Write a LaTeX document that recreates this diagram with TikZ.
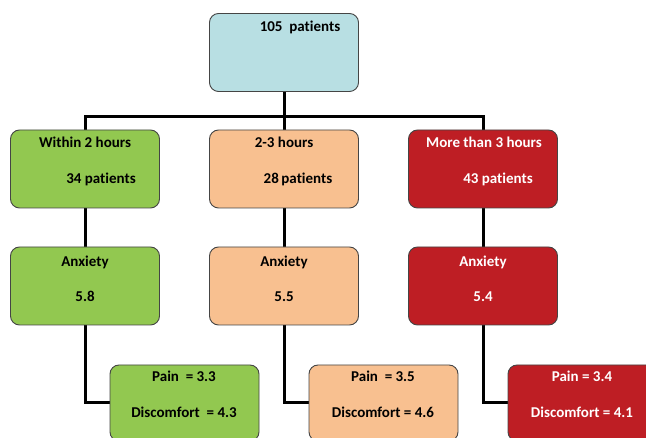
\documentclass[tikz,border=0pt]{standalone}
\usepackage{fontspec}
\setmainfont{Carlito}[Ligatures=NoCommon]
\usetikzlibrary{backgrounds}
\definecolor{topblue}{HTML}{B8DFE3}
\definecolor{grn}{HTML}{92C850}
\definecolor{peach}{HTML}{F8C090}
\definecolor{rd}{HTML}{BE1E24}
\definecolor{boxline}{HTML}{454545}
\begin{document}
\begin{tikzpicture}[x=1pt,y=-1pt,
  box/.style={draw=boxline, line width=0.9pt, rounded corners=9pt, minimum width=149pt, minimum height=78pt, inner sep=0pt},
  lowbox/.style={box, minimum height=76pt},
  txt/.style={font=\bfseries\fontsize{15}{18}\selectfont, inner sep=0pt, anchor=base},
  wtxt/.style={txt, text=white},
  link/.style={line width=3pt, black}]
\useasboundingbox (0,0) rectangle (646,438);
% boxes
\node[box, fill=topblue] (top) at (284,52.5) {};
\node[box, fill=grn] (g1) at (85,169) {};
\node[box, fill=peach] (o1) at (284,169) {};
\node[box, fill=rd] (r1) at (483,169) {};
\node[box, fill=grn] (g2) at (85,286) {};
\node[box, fill=peach] (o2) at (284,286) {};
\node[box, fill=rd] (r2) at (483,286) {};
\node[lowbox, fill=grn] (g3) at (184.5,403) {};
\node[lowbox, fill=peach] (o3) at (383.5,403) {};
\node[lowbox, fill=rd] (r3) at (582.5,403) {};
% texts
\node[txt] (t0) at (300,32) {105\ \ patients};
\node[txt] (g1a) at (85,148) {Within 2 hours};
\node[txt] (g1b) at (101,184) {34 patients};
\node[txt] (o1a) at (284,148) {2-3 hours};
\node[txt] (o1b) at (298,184) {28\,patients};
\node[wtxt] (r1a) at (484,148) {More than 3 hours};
\node[wtxt] (r1b) at (498,184) {43 patients};
\node[txt] (g2a) at (85,267) {Anxiety};
\node[txt] (g2b) at (85,302) {5.8};
\node[txt] (o2a) at (284,267) {Anxiety};
\node[txt] (o2b) at (284,302) {5.5};
\node[wtxt] (r2a) at (483,267) {Anxiety};
\node[wtxt] (r2b) at (483,302) {5.4};
\node[txt] (g3a) at (184,382) {Pain\ \ = 3.3};
\node[txt] (g3b) at (184,418) {Discomfort\ \ = 4.3};
\node[txt] (o3a) at (383,382) {Pain\ \ = 3.5};
\node[txt] (o3b) at (383,418) {Discomfort = 4.6};
\node[wtxt] (r3a) at (582,382) {Pain = 3.4};
\node[wtxt] (r3b) at (582,418) {Discomfort = 4.1};
% connectors
\begin{scope}[on background layer]
\coordinate (hub) at (284,117);
\draw[link] (top.south) -- (hub);
\draw[link] (g1.north) |- (hub) -| (r1.north);
\draw[link] (hub) -- (o1.north);
\draw[link] (g1.south) -- (g2.north);
\draw[link] (o1.south) -- (o2.north);
\draw[link] (r1.south) -- (r2.north);
\draw[link] (g2.south) |- (g3.west);
\draw[link] (o2.south) |- (o3.west);
\draw[link] (r2.south) |- (r3.west);
\end{scope}
\end{tikzpicture}
\end{document}
